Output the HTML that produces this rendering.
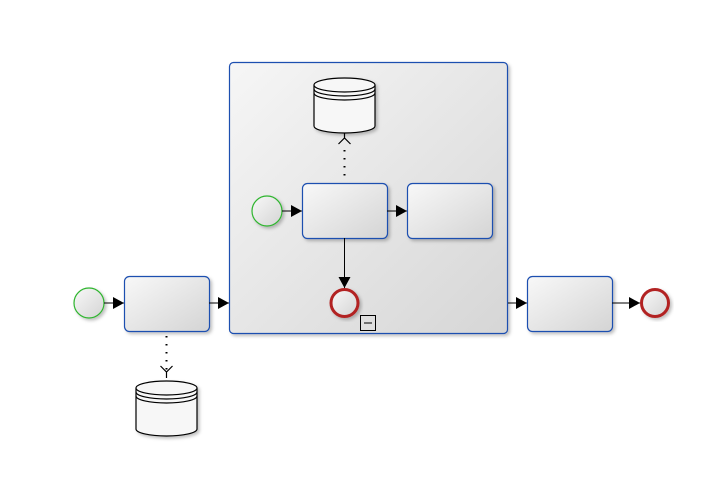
<!DOCTYPE html>
<html><head><meta charset="utf-8"><style>html,body{margin:0;padding:0;background:#fff;}svg{display:block}</style></head>
<body>
<svg width="704" height="497" viewBox="0 0 704 497" xmlns="http://www.w3.org/2000/svg">
<defs>
<linearGradient id="g" x1="0" y1="0" x2="1" y2="1"><stop offset="0" stop-color="#f8f8f8"/><stop offset="1" stop-color="#d4d4d4"/></linearGradient>
<linearGradient id="gs" x1="0" y1="0" x2="1" y2="1"><stop offset="0" stop-color="#f6f6f6"/><stop offset="1" stop-color="#d6d6d6"/></linearGradient>
<filter id="sh" x="-10%" y="-10%" width="130%" height="130%"><feDropShadow dx="2" dy="2" stdDeviation="1.5" flood-color="#000" flood-opacity="0.25"/></filter>
<marker id="a" markerWidth="12" markerHeight="12" refX="11" refY="6" orient="auto" markerUnits="userSpaceOnUse"><path d="M0,0 L11,6 L0,12 Z" fill="#000"/></marker>
<g id="ds">
<path d="M0,7 L0,48 A30.5,7 0 0 0 61,48 L61,7" fill="#f7f7f7" stroke="#000" stroke-width="1.2"/>
<ellipse cx="30.5" cy="7" rx="30.5" ry="7" fill="#f7f7f7" stroke="#000" stroke-width="1.2"/>
<path d="M0,11 A30.5,7 0 0 0 61,11 M0,15 A30.5,7 0 0 0 61,15" fill="none" stroke="#000" stroke-width="1.2"/>
</g>
</defs>

<!-- subprocess -->
<rect x="229.5" y="62.5" width="278" height="271" rx="4" fill="url(#gs)" stroke="#1f4fb0" stroke-width="1.2" filter="url(#sh)"/>
<rect x="360.5" y="315.5" width="15" height="15" fill="none" stroke="#000"/>
<line x1="364" y1="323" x2="372" y2="323" stroke="#000"/>

<!-- outer start -->
<circle cx="89" cy="303" r="15" fill="url(#g)" stroke="#2fb52f" stroke-width="1.2" filter="url(#sh)"/>
<line x1="104" y1="303" x2="124" y2="303" stroke="#000" marker-end="url(#a)"/>
<rect x="124.5" y="276.5" width="85" height="55" rx="5" fill="url(#g)" stroke="#1f4fb0" stroke-width="1.2" filter="url(#sh)"/>
<line x1="209" y1="303" x2="229" y2="303" stroke="#000" marker-end="url(#a)"/>
<line x1="166.5" y1="336" x2="166.5" y2="370" stroke="#000" stroke-width="2" stroke-dasharray="1.5,6.5"/>
<path d="M160.5,366 L166.5,372 L172.5,366 M166.5,372 L166.5,378" fill="none" stroke="#000" stroke-width="1.2"/>
<g transform="translate(136,381)" filter="url(#sh)"><use href="#ds"/></g>

<!-- inner -->
<g transform="translate(314,78)" filter="url(#sh)"><use href="#ds"/></g>
<path d="M338.5,144 L344.5,138 L350.5,144 M344.5,138 L344.5,133" fill="none" stroke="#000" stroke-width="1.2"/>
<line x1="344.5" y1="150" x2="344.5" y2="180" stroke="#000" stroke-width="2" stroke-dasharray="1.5,6.5"/>
<circle cx="267" cy="211" r="15" fill="url(#g)" stroke="#2fb52f" stroke-width="1.2" filter="url(#sh)"/>
<line x1="282" y1="211" x2="302" y2="211" stroke="#000" marker-end="url(#a)"/>
<rect x="302.5" y="183.5" width="85" height="55" rx="5" fill="url(#g)" stroke="#1f4fb0" stroke-width="1.2" filter="url(#sh)"/>
<line x1="387" y1="211" x2="407" y2="211" stroke="#000" marker-end="url(#a)"/>
<rect x="407.5" y="183.5" width="85" height="55" rx="5" fill="url(#g)" stroke="#1f4fb0" stroke-width="1.2" filter="url(#sh)"/>
<line x1="344.5" y1="238" x2="344.5" y2="288" stroke="#000" marker-end="url(#a)"/>
<circle cx="344.5" cy="303" r="13.5" fill="url(#g)" stroke="#b22222" stroke-width="3" filter="url(#sh)"/>

<!-- right -->
<line x1="508" y1="303" x2="527" y2="303" stroke="#000" marker-end="url(#a)"/>
<rect x="527.5" y="276.5" width="85" height="55" rx="5" fill="url(#g)" stroke="#1f4fb0" stroke-width="1.2" filter="url(#sh)"/>
<line x1="612" y1="303" x2="640" y2="303" stroke="#000" marker-end="url(#a)"/>
<circle cx="655" cy="303" r="13.5" fill="url(#g)" stroke="#b22222" stroke-width="3" filter="url(#sh)"/>
</svg>
</body></html>
